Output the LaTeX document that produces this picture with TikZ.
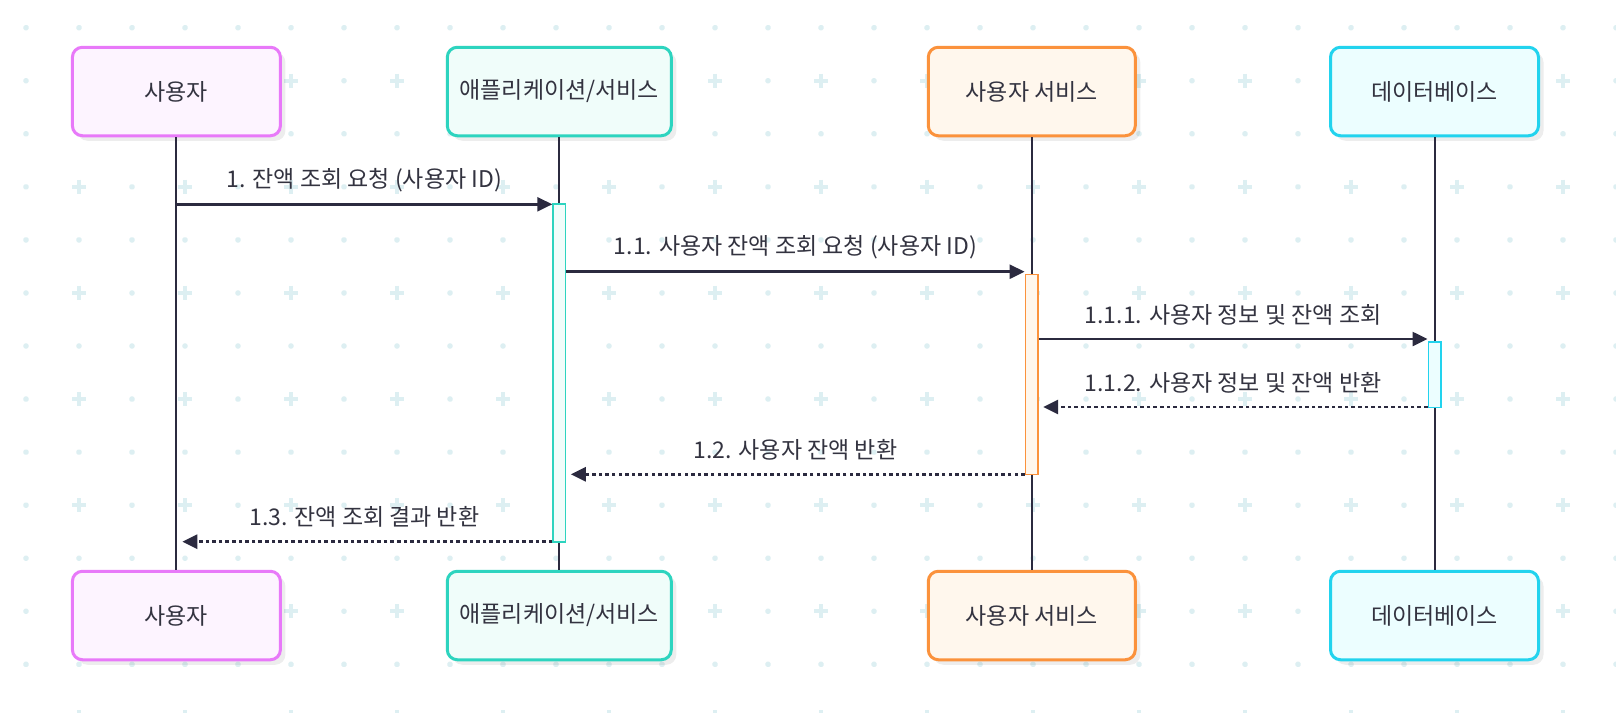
\documentclass[tikz,border=0pt]{standalone}
\usepackage{fontspec}
\setmainfont{Noto Sans CJK KR}
\usetikzlibrary{arrows.meta,shadows}
\definecolor{linec}{HTML}{2B2A3F}
\definecolor{txt}{HTML}{333340}
\definecolor{gridc}{HTML}{DDEFF2}
\definecolor{pinkS}{HTML}{E879F9}\definecolor{pinkF}{HTML}{FDF4FF}
\definecolor{tealS}{HTML}{2DD4BF}\definecolor{tealF}{HTML}{F0FDFA}
\definecolor{orgS}{HTML}{FB923C}\definecolor{orgF}{HTML}{FFF7ED}
\definecolor{cyanS}{HTML}{22D3EE}\definecolor{cyanF}{HTML}{ECFEFF}
\begin{document}
\begin{tikzpicture}[x=1pt,y=-1pt,
  font=\fontsize{23}{27}\selectfont,
  part/.style 2 args={draw=#1, fill=#2, line width=3pt, rounded corners=10pt,
    minimum height=88.5pt, text=txt, inner sep=0pt,
    drop shadow={shadow xshift=5pt, shadow yshift=-5pt, fill=black, opacity=0.07}},
  actbox/.style 2 args={draw=#1, fill=#2, line width=1.5pt, minimum width=12.5pt, inner sep=0pt},
  life/.style={draw=linec, line width=2pt},
  msg/.style={draw=linec, line width=2.5pt, -{Triangle[length=15pt,width=14pt]}},
  ret/.style={msg, line width=2.8pt, dash pattern=on 3.5pt off 3.1pt, shorten >=4.5pt},
  lbl/.style={text=txt, yshift=24.5pt, inner sep=0pt}
]
\fill[white] (0,0) rectangle (1616,712);
\useasboundingbox (0,0) rectangle (1616,712);
% background grid
\foreach \i in {0,...,30}{
  \foreach \j in {0,...,13}{
    \pgfmathsetmacro{\gx}{26+53*\i}
    \pgfmathsetmacro{\gy}{27.7+53.05*\j}
    \pgfmathtruncatemacro{\odd}{(mod(\i,2)==1)&&(mod(\j,2)==1)}
    \ifnum\odd=1
      \draw[gridc, line width=3.6pt] (\gx-7,\gy) -- (\gx+7,\gy) (\gx,\gy-7) -- (\gx,\gy+7);
    \else
      \fill[gridc, rounded corners=1.5pt] (\gx-2.6,\gy-2.6) rectangle (\gx+2.6,\gy+2.6);
    \fi
  }
}
% participants
\node[part={pinkS}{pinkF}, minimum width=208pt] (u1) at (176.4,91.5) {사용자};
\node[part={tealS}{tealF}, minimum width=224pt] (u2) at (559.3,91.5) {애플리케이션/서비스};
\node[part={orgS}{orgF}, minimum width=207pt] (u3) at (1031.8,91.5) {사용자 서비스};
\node[part={cyanS}{cyanF}, minimum width=208pt] (u4) at (1434.5,91.5) {데이터베이스};
\node[part={pinkS}{pinkF}, minimum width=208pt] (b1) at (176.4,615.5) {사용자};
\node[part={tealS}{tealF}, minimum width=224pt] (b2) at (559.3,615.5) {애플리케이션/서비스};
\node[part={orgS}{orgF}, minimum width=207pt] (b3) at (1031.8,615.5) {사용자 서비스};
\node[part={cyanS}{cyanF}, minimum width=208pt] (b4) at (1434.5,615.5) {데이터베이스};
% lifelines
\draw[life] (u1.south) -- (b1.north);
\draw[life] (u2.south) -- (b2.north);
\draw[life] (u3.south) -- (b3.north);
\draw[life] (u4.south) -- (b4.north);
% activations
\node[actbox={tealS}{tealF}, minimum height=338pt] (a2) at (559.3,373.2) {};
\node[actbox={orgS}{orgF}, minimum height=200pt] (a3) at (1031.6,374.3) {};
\node[actbox={cyanS}{cyanF}, minimum height=65.5pt] (a4) at (1434.5,374.5) {};
% messages
\coordinate (m1s) at (u1.south |- 0,204.3);
\draw[msg] (m1s) -- (a2.west |- m1s) node[lbl, midway] {1. 잔액 조회 요청 (사용자 ID)};
\coordinate (m2s) at (a2.east |- 0,271.7);
\draw[msg] (m2s) -- (a3.west |- m2s) node[lbl, midway] {1.1. 사용자 잔액 조회 요청 (사용자 ID)};
\coordinate (m3s) at (a3.east |- 0,339);
\draw[msg] (m3s) -- (a4.west |- m3s) node[lbl, midway] {1.1.1. 사용자 정보 및 잔액 조회};
\coordinate (m4s) at (a4.west |- 0,407);
\draw[ret] (m4s) -- (a3.east |- m4s) node[lbl, midway] {1.1.2. 사용자 정보 및 잔액 반환};
\coordinate (m5s) at (a3.west |- 0,474.3);
\draw[ret] (m5s) -- (a2.east |- m5s) node[lbl, midway] {1.2. 사용자 잔액 반환};
\coordinate (m6s) at (a2.west |- 0,541.7);
\draw[ret, shorten >=6pt] (m6s) -- (u1.south |- m6s) node[lbl, midway] {1.3. 잔액 조회 결과 반환};
\end{tikzpicture}
\end{document}
